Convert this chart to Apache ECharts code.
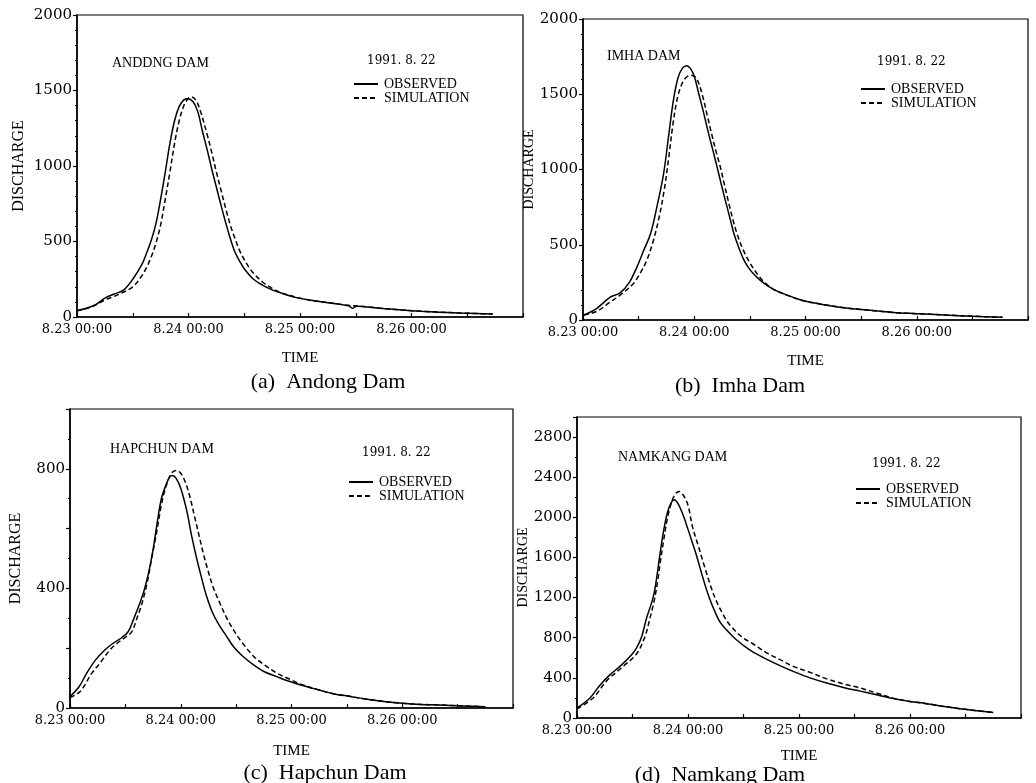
<!DOCTYPE html>
<html>
<head>
<meta charset="utf-8">
<script src="https://cdn.jsdelivr.net/npm/echarts@6/dist/echarts.min.js"></script>
<style>
html,body{margin:0;padding:0;background:#fff;}
#chart{width:1036px;height:783px;}
</style>
</head>
<body>
<div id="chart"></div>
<script>
// ---- tick labels (x axis, every 24 h from 8.23 00:00) ----
const timeLabels = ['8.23 00:00', '8.24 00:00', '8.25 00:00', '8.26 00:00'];
const panelTitles = ['ANDDNG DAM', 'IMHA DAM', 'HAPCHUN DAM', 'NAMKANG DAM'];
const captions = ['(a)  Andong Dam', '(b)  Imha Dam', '(c)  Hapchun Dam', '(d)  Namkang Dam'];
const eventDate = '1991. 8. 22';
const seriesNames = ['OBSERVED', 'SIMULATION'];

// ---- (a) Andong Dam : hours after 8.23 00:00, discharge ----
const andongObsH = [0,2,4,6,8,10,12,14,15,16,17,18,19,20,21,22,23,23.8,25,26,27,28,29,30,31,32,33,34,35,36,38,40,42,44,47,50,54,57,58.5,59.3,60.2,62,66,70,74,78,82,86,89.5];
const andongObs  = [42,58,82,125,152,178,250,350,425,510,620,780,960,1150,1300,1395,1438,1446,1425,1360,1230,1110,980,860,740,625,520,430,370,320,250,210,180,158,130,112,95,82,74,58,72,68,56,46,38,32,27,23,20];
const andongSimH = [0,3,6,9,12,14,15,16,17,18,19,20,21,22,23,24,24.6,25.5,26.5,28,29,30,31,32,33,34,35,36,37,38,40,42,44,47,50,54,57,62,66,70,74,78,82,86,89.5];
const andongSim  = [42,65,112,150,200,275,330,400,490,610,780,960,1150,1300,1400,1450,1458,1440,1370,1210,1090,960,840,720,610,520,440,380,330,290,230,190,160,132,112,95,82,68,56,46,38,32,27,23,20];

// ---- (b) Imha Dam ----
const imhaObsH = [0.2,3,5.8,8,10,11.6,13,14.6,16,17.4,18.5,19.5,20.5,21.5,22.4,23.2,24,25,26,27,28,28.9,30,31,32,32.5,33.5,34.7,36,37.5,39,41,44,47.6,52,56.3,62,67,72,78,84,90.5];
const imhaObs  = [33,78,150,180,250,350,455,576,760,975,1230,1460,1610,1675,1690,1670,1620,1500,1380,1250,1130,1020,880,760,640,580,490,400,335,285,245,205,165,128,102,82,64,50,42,33,25,18];
const imhaSimH = [0.2,3,5.8,8,10.9,12.5,13.8,15.2,16.4,17.5,18.5,19.4,20.4,21.5,22.5,23.5,24.5,25.7,26.8,27.8,28.7,29.6,30.5,31.5,32.4,33.2,34.5,36,37.5,39,41,44,47.6,52,56.3,62,67,72,78,84,90.5];
const imhaSim  = [33,58,118,165,243,320,400,530,680,860,1080,1300,1480,1580,1618,1625,1605,1500,1360,1230,1120,1020,900,770,660,576,470,380,310,255,205,165,128,102,82,64,50,42,33,25,18];

// ---- (c) Hapchun Dam ----
const hapchunObsH = [0,2,3.6,5.5,7.6,9.4,11.2,12.6,13.7,15,16,17,18,19,19.8,20.9,21.6,22.2,23,24,25.3,26.3,27.5,28.6,29.6,31,32.5,34,35.4,37.5,39.7,42,44.8,47,50,54,57,61,64,68,72,76,80,85,90];
const hapchunObs  = [38,72,116,160,195,217,235,255,294,345,390,450,530,630,700,750,772,778,768,735,660,580,497,430,374,315,273,238,206,172,145,122,105,92,77,60,48,38,30,22,16,12,10,7,4];
const hapchunSimH = [0,2.2,4.7,6.5,8.7,10.5,12.3,13.4,14.5,15.5,16.6,17.7,18.8,19.8,20.6,21.6,22.3,23.1,24,25,26,27,28,29,30,31,32.5,34,35.8,37.5,40,42.5,45,47.5,50,54,57,61,64,68,72,76,80,85,90];
const hapchunSim  = [35,55,116,150,195,220,240,255,300,345,410,500,590,680,730,775,790,794,785,755,705,640,575,510,455,405,350,300,252,215,170,140,115,97,80,60,48,38,30,22,16,12,10,7,4];

// ---- (d) Namkang Dam ----
const namkangObsH = [0,2.8,5,7.1,9.3,11.8,13,14,15,16,16.7,17.3,17.9,18.7,19.5,20.3,21,21.8,22.8,24,25,25.9,27.2,28.5,30,31,32.5,34.2,37,40,44,47,50.4,54,58,61.2,65,68.4,72,75.6,79,82.8,86,90];
const namkangObs  = [100,200,330,430,515,630,710,813,990,1130,1250,1420,1620,1860,2040,2140,2175,2140,2040,1880,1740,1610,1400,1212,1040,950,870,790,690,610,520,460,400,348,300,268,230,193,165,143,118,93,75,55];
const namkangSimH = [0,3.5,6.4,10,12.9,14.7,15.8,16.6,17.4,18,18.7,19.5,20.3,21.2,22.1,23,24,25,26.2,27.5,28.8,30,31.5,33,35.6,38,41,44,47,50.4,54,58,61.2,65,68.4,72,75.6,79,82.8,86,90];
const namkangSim  = [90,200,370,515,640,813,1000,1150,1350,1550,1760,1980,2130,2230,2258,2220,2120,1900,1720,1520,1330,1180,1040,930,810,740,650,580,510,455,390,335,300,245,198,165,143,118,93,75,55];

// ---- y-axis scales per panel ----
const yMax      = [2000, 2000, 1000, 3000];
const yInterval = [500, 500, 200, 400];
const yLabelStep= [500, 500, 400, 400];

const panels = [
  {obsH: andongObsH, obs: andongObs, simH: andongSimH, sim: andongSim},
  {obsH: imhaObsH, obs: imhaObs, simH: imhaSimH, sim: imhaSim},
  {obsH: hapchunObsH, obs: hapchunObs, simH: hapchunSimH, sim: hapchunSim},
  {obsH: namkangObsH, obs: namkangObs, simH: namkangSimH, sim: namkangSim}
];

// layout (pixels)
const grids = [
  {left: 77,  top: 15,  width: 446, height: 302},
  {left: 583, top: 19,  width: 445, height: 301},
  {left: 70,  top: 409, width: 443, height: 299},
  {left: 577, top: 417, width: 444, height: 301}
];
const yNameGap = [50, 44, 46, 41];
const yNameSize = [16, 14, 16, 14];
const xNameGap = [34, 34, 36, 31];
const legendPos = [[353, 77], [860, 82], [348, 475], [855, 482]];
const titlePos = [[112, 63], [607, 56], [110, 449], [618, 457]];
const datePos = [[367, 61], [877, 62], [362, 453], [872, 464]];
const captionPos = [[328, 382], [740, 386], [325, 773], [720, 775]];

const serif = '"Liberation Serif", "DejaVu Serif", serif';
const numFont = '"DejaVu Serif", serif';

const zip = (h, v) => h.map((x, i) => [x, v[i]]);

const option = {
  animation: false,
  backgroundColor: '#fff',
  grid: grids.map(g => Object.assign({show: true, borderColor: '#000', borderWidth: 1.2, backgroundColor: 'transparent'}, g)),
  xAxis: grids.map((g, i) => ({
    type: 'value', gridIndex: i, min: 0, max: 96, interval: 12,
    axisLine: {show: true, onZero: false, lineStyle: {color: '#000', width: 1.6}},
    axisTick: {show: true, inside: true, length: 4, lineStyle: {color: '#000', width: 1.2}},
    axisLabel: {
      color: '#000', fontFamily: numFont, fontSize: 13, margin: 6,
      formatter: v => (v % 24 === 0 && v / 24 < timeLabels.length) ? timeLabels[v / 24] : ''
    },
    splitLine: {show: false},
    name: 'TIME', nameLocation: 'middle', nameGap: xNameGap[i],
    nameTextStyle: {color: '#000', fontFamily: serif, fontSize: 15}
  })),
  yAxis: grids.map((g, i) => ({
    type: 'value', gridIndex: i, min: 0, max: yMax[i], interval: yInterval[i],
    axisLine: {show: true, onZero: false, lineStyle: {color: '#000', width: 1.6}},
    axisTick: {show: true, inside: false, length: 4, lineStyle: {color: '#000', width: 1.2}},
    minorTick: {show: true, splitNumber: i < 2 ? 5 : 2, length: 2, lineStyle: {color: '#000', width: 1}},
    axisLabel: {
      color: '#000', fontFamily: numFont, fontSize: 15, margin: 5, showMaxLabel: i !== 3,
      formatter: v => (v % yLabelStep[i] === 0 && (i !== 2 || v < 1000)) ? String(v) : ''
    },
    splitLine: {show: false},
    name: 'DISCHARGE', nameLocation: 'middle', nameRotate: 90, nameGap: yNameGap[i],
    nameTextStyle: {color: '#000', fontFamily: serif, fontSize: yNameSize[i]}
  })),
  legend: legendPos.map(p => ({
    orient: 'vertical', left: p[0], top: p[1], padding: 0,
    itemWidth: 24, itemHeight: 12, itemGap: 0, selectedMode: false,
    data: seriesNames,
    itemStyle: {color: 'transparent', borderColor: 'transparent', borderWidth: 0, opacity: 0},
    textStyle: {color: '#000', fontFamily: serif, fontSize: 14, lineHeight: 12, padding: [0, 0, 0, 1]}
  })),
  series: [],
  graphic: []
};

panels.forEach((p, i) => {
  option.series.push({
    name: seriesNames[0], type: 'line', xAxisIndex: i, yAxisIndex: i,
    data: zip(p.obsH, p.obs), symbol: 'none', smooth: 0.35,
    lineStyle: {color: '#000', width: 1.5, type: 'solid'}, itemStyle: {color: '#000'}
  });
  option.series.push({
    name: seriesNames[1], type: 'line', xAxisIndex: i, yAxisIndex: i,
    data: zip(p.simH, p.sim), symbol: 'none', smooth: 0.35,
    lineStyle: {color: '#000', width: 1.5, type: [5, 3]}, itemStyle: {color: '#000'}
  });
  option.graphic.push({
    type: 'text', x: titlePos[i][0], y: titlePos[i][1],
    style: {text: panelTitles[i], font: '14px ' + serif, fill: '#000', align: 'left', verticalAlign: 'middle', textAlign: 'left', textVerticalAlign: 'middle'}
  });
  option.graphic.push({
    type: 'text', x: datePos[i][0], y: datePos[i][1],
    style: {text: eventDate, font: '12px ' + numFont, fill: '#000', align: 'left', verticalAlign: 'middle', textAlign: 'left', textVerticalAlign: 'middle'}
  });
  option.graphic.push({
    type: 'text', x: captionPos[i][0], y: captionPos[i][1],
    style: {text: captions[i], font: '22px ' + serif, fill: '#000', align: 'center', verticalAlign: 'middle', textAlign: 'center', textVerticalAlign: 'middle'}
  });
});

const chart = echarts.init(document.getElementById('chart'), null, {renderer: 'canvas'});
chart.setOption(option);
</script>
</body>
</html>
